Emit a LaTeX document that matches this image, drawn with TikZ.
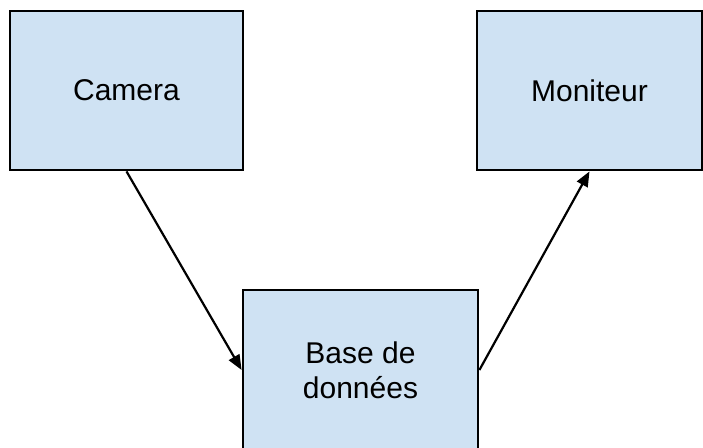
\documentclass[tikz,border=0pt]{standalone}
\usepackage{fontspec}
\setmainfont{Liberation Sans}
\usetikzlibrary{arrows.meta}
\definecolor{boxblue}{HTML}{CFE2F3}

\begin{document}
\begin{tikzpicture}[x=0.5pt, y=-0.5pt,
		bloc/.style={draw=black, line width=1.4pt, fill=boxblue, minimum width=116.5pt,
			minimum height=79.5pt, inner sep=0pt, align=center, font=\fontsize{15}{17.5}\selectfont},
		fleche/.style={-{Triangle[length=7.5pt, width=6pt]}, line width=1.1pt}]
	\useasboundingbox (0, 0) rectangle (703, 448);

	\node [bloc] (camera) at (126.5, 90.5) {Camera};
	\node [bloc, minimum width=112.5pt] (moniteur) at (589.5, 90.5) {Moniteur};
	\node [bloc, minimum width=117.5pt, minimum height=80pt] (base) at (360.5, 370) {Base de\\données};

	\draw [fleche] (camera.south) -- (base.west);
	\draw [fleche] (base.east) -- (moniteur.south);
\end{tikzpicture}
\end{document}
